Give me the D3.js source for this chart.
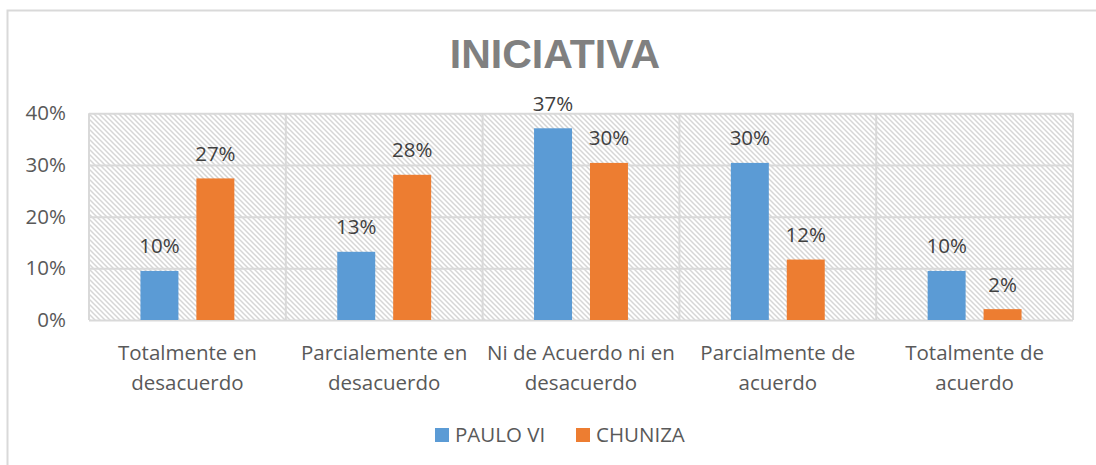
<!DOCTYPE html>
<html>
<head>
<meta charset="utf-8">
<script src="https://cdn.jsdelivr.net/npm/d3@7"></script>
<style>
  html, body { margin: 0; padding: 0; background: #ffffff; }
  svg { display: block; }
</style>
</head>
<body>
<svg id="chart" width="1096" height="465"></svg>
<script>
// ---- data ----
const categories = [
  ["Totalmente en", "desacuerdo"],
  ["Parcialemente en", "desacuerdo"],
  ["Ni de Acuerdo ni en", "desacuerdo"],
  ["Parcialmente de", "acuerdo"],
  ["Totalmente de", "acuerdo"]
];
const seriesNames = ["PAULO VI", "CHUNIZA"];
const pauloVI = [0.095, 0.132, 0.371, 0.304, 0.095];
const chuniza = [0.274, 0.281, 0.304, 0.117, 0.021];
const labelsPaulo = ["10%", "13%", "37%", "30%", "10%"];
const labelsChuniza = ["27%", "28%", "30%", "12%", "2%"];
const yTicks = [0, 0.1, 0.2, 0.3, 0.4];
const yTickLabels = ["0%", "10%", "20%", "30%", "40%"];
const colors = ["#5b9bd5", "#ed7d31"];
const title = "INICIATIVA";

// ---- layout ----
const svg = d3.select("#chart");
const plot = { left: 89, right: 1073, top: 113.3, bottom: 320 };
const textColor = "#595959";
const gridColor = "#d9d9d9";
const font = "'Open Sans', 'Noto Sans', sans-serif";
const fs = "20.5px";

// outer chart border
svg.append("rect")
  .attr("x", 7.5).attr("y", 10.5)
  .attr("width", 1100).attr("height", 470)
  .attr("fill", "#ffffff")
  .attr("stroke", gridColor).attr("stroke-width", 2);

// hatch pattern
const defs = svg.append("defs");
const pat = defs.append("pattern")
  .attr("id", "hatch")
  .attr("patternUnits", "userSpaceOnUse")
  .attr("width", 5).attr("height", 5);
pat.append("rect").attr("width", 5).attr("height", 5).attr("fill", "#ffffff");
pat.append("path")
  .attr("d", "M-1,-1 L6,6 M-1,4 L1,6 M4,-1 L6,1")
  .attr("stroke", "#d6d6d6").attr("stroke-width", 1.5);

const x0 = d3.scaleBand()
  .domain(d3.range(categories.length))
  .range([plot.left, plot.right])
  .padding(0);
const x1 = d3.scaleBand()
  .domain(seriesNames)
  .range([0, x0.bandwidth()])
  .paddingInner(0.321)
  .paddingOuter(0.92);
const y = d3.scaleLinear().domain([0, 0.4]).range([plot.bottom, plot.top]);

// plot background with hatch
svg.append("rect")
  .attr("x", plot.left).attr("y", plot.top)
  .attr("width", plot.right - plot.left)
  .attr("height", plot.bottom - plot.top)
  .attr("fill", "url(#hatch)");

// horizontal gridlines via axis
const yAxisGrid = d3.axisLeft(y)
  .tickValues(yTicks)
  .tickSize(-(plot.right - plot.left))
  .tickFormat("");
const gGrid = svg.append("g")
  .attr("transform", `translate(${plot.left},0)`)
  .call(yAxisGrid);
gGrid.select(".domain").remove();
gGrid.selectAll("line").attr("stroke", gridColor).attr("stroke-width", 2);

// vertical gridlines at category boundaries
const bounds = d3.range(categories.length + 1).map(i =>
  i < categories.length ? x0(i) : x0(categories.length - 1) + x0.bandwidth());
svg.append("g").selectAll("line")
  .data(bounds).join("line")
  .attr("x1", d => d).attr("x2", d => d)
  .attr("y1", plot.top).attr("y2", plot.bottom)
  .attr("stroke", gridColor).attr("stroke-width", 2);

// y axis labels
const yAxis = d3.axisLeft(y)
  .tickValues(yTicks)
  .tickSize(0)
  .tickPadding(23)
  .tickFormat((d, i) => yTickLabels[i]);
const gY = svg.append("g")
  .attr("transform", `translate(${plot.left},0)`)
  .call(yAxis);
gY.select(".domain").remove();
gY.selectAll("text")
  .attr("fill", textColor)
  .style("font-family", font)
  .style("font-size", fs);

// bars
const seriesData = [pauloVI, chuniza];
const seriesLabels = [labelsPaulo, labelsChuniza];
seriesNames.forEach((name, s) => {
  const g = svg.append("g");
  g.selectAll("rect")
    .data(seriesData[s]).join("rect")
    .attr("x", (d, i) => x0(i) + x1(name))
    .attr("y", d => y(d))
    .attr("width", x1.bandwidth())
    .attr("height", d => y(0) - y(d))
    .attr("fill", colors[s]);
  g.selectAll("text")
    .data(seriesData[s]).join("text")
    .attr("x", (d, i) => x0(i) + x1(name) + x1.bandwidth() / 2)
    .attr("y", d => y(d) - 17.5)
    .attr("text-anchor", "middle")
    .attr("fill", "#404040")
    .style("font-family", font)
    .style("font-size", fs)
    .text((d, i) => seriesLabels[s][i]);
});

// category labels
const gX = svg.append("g");
categories.forEach((lines, i) => {
  const t = gX.append("text")
    .attr("x", x0(i) + x0.bandwidth() / 2)
    .attr("y", 359.5)
    .attr("text-anchor", "middle")
    .attr("fill", textColor)
    .style("font-family", font)
    .style("font-size", fs);
  lines.forEach((ln, j) => {
    t.append("tspan")
      .attr("x", x0(i) + x0.bandwidth() / 2)
      .attr("dy", j === 0 ? 0 : 30)
      .text(ln);
  });
});

// title
svg.append("text")
  .attr("x", 555).attr("y", 68.3)
  .attr("text-anchor", "middle")
  .attr("fill", "#808080")
  .style("font-family", "'Liberation Sans', Arial, sans-serif")
  .style("font-weight", "bold")
  .style("font-size", "41px")
  .text(title);

// legend
const legendItems = [
  { name: seriesNames[0], color: colors[0], x: 435 },
  { name: seriesNames[1], color: colors[1], x: 576 }
];
const gL = svg.append("g");
legendItems.forEach(it => {
  gL.append("rect")
    .attr("x", it.x).attr("y", 428)
    .attr("width", 14).attr("height", 14)
    .attr("fill", it.color);
  gL.append("text")
    .attr("x", it.x + 20).attr("y", 442)
    .attr("fill", textColor)
    .style("font-family", font)
    .style("font-size", fs)
    .text(it.name);
});
</script>
</body>
</html>
